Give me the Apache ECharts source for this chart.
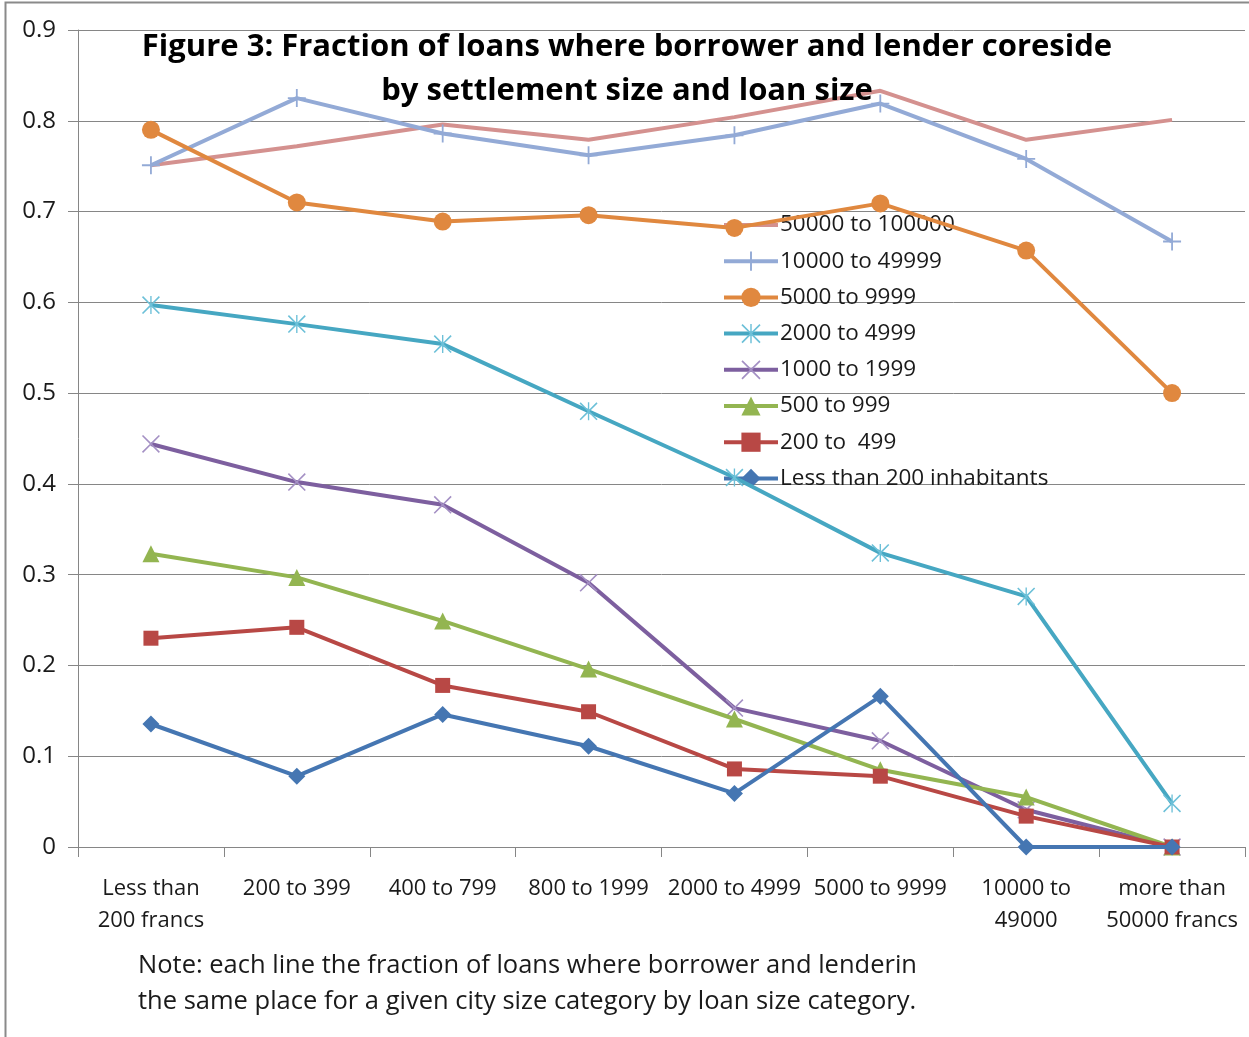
<!DOCTYPE html>
<html>
<head>
<meta charset="utf-8">
<script src="https://cdn.jsdelivr.net/npm/echarts@6/dist/echarts.min.js"></script>
<style>
  html, body { margin: 0; padding: 0; background: #fff; }
  #chart { width: 1249px; height: 1037px; }
</style>
</head>
<body>
<div id="chart"></div>
<script>
// ---- data ----
const categories = ['Less than\n200 francs', '200 to 399', '400 to 799', '800 to 1999', '2000 to 4999', '5000 to 9999', '10000 to\n49000', 'more than\n50000 francs'];
const yTicks = [0, 0.1, 0.2, 0.3, 0.4, 0.5, 0.6, 0.7, 0.8, 0.9];
const seriesNames = ['50000 to 100000', '10000 to 49999', '5000 to 9999', '2000 to 4999', '1000 to 1999', '500 to 999', '200 to  499', 'Less than 200 inhabitants'];
const s50000to100000 = [0.751, 0.772, 0.796, 0.779, 0.804, 0.833, 0.779, 0.801];
const s10000to49999 = [0.751, 0.825, 0.786, 0.762, 0.784, 0.819, 0.758, 0.667];
const s5000to9999 = [0.790, 0.710, 0.689, 0.696, 0.682, 0.709, 0.657, 0.500];
const s2000to4999 = [0.597, 0.576, 0.554, 0.480, 0.407, 0.324, 0.276, 0.048];
const s1000to1999 = [0.444, 0.402, 0.377, 0.291, 0.153, 0.117, 0.041, 0];
const s500to999 = [0.323, 0.297, 0.249, 0.196, 0.141, 0.085, 0.055, 0];
const s200to499 = [0.230, 0.242, 0.178, 0.149, 0.086, 0.078, 0.034, 0];
const sLess200 = [0.1355, 0.078, 0.146, 0.111, 0.059, 0.166, 0, 0];
const titleLines = ['Figure 3: Fraction of loans where borrower and lender coreside', 'by settlement size and loan size'];
const noteLines = ['Note: each line the fraction of loans where borrower and lenderin', 'the same place for a given city size category by loan size category.'];

// ---- styles ----
const FONT = '"Open Sans", Lato, sans-serif';
const PLUS = 'path://M7.2,0 L8.8,0 L8.8,7.2 L16,7.2 L16,8.8 L8.8,8.8 L8.8,16 L7.2,16 L7.2,8.8 L0,8.8 L0,7.2 L7.2,7.2 Z';
const XMARK = 'path://M0,1 L1,0 L8,7 L15,0 L16,1 L9,8 L16,15 L15,16 L8,9 L1,16 L0,15 L7,8 Z';
const STAR = 'path://M0,1 L1,0 L8,7 L15,0 L16,1 L9,8 L16,15 L15,16 L8,9 L1,16 L0,15 L7,8 Z M7.4,0 L8.6,0 L8.6,16 L7.4,16 Z';
const LINE_ONLY_ICON = 'path://M0,0 L0.01,0 L0,0.01 Z M0,10 L54,10 L54,14 L0,14 Z M53.99,24 L54,24 L54,23.99 Z';

const seriesData = [s50000to100000, s10000to49999, s5000to9999, s2000to4999, s1000to1999, s500to999, s200to499, sLess200];
const styles = [
  { color: '#D4918F', marker: '#D4918F', symbol: 'none', size: 0 },
  { color: '#93AAD6', marker: '#93AAD6', symbol: PLUS, size: 18 },
  { color: '#E0883F', marker: '#E0883F', symbol: 'circle', size: 18 },
  { color: '#46A7C2', marker: '#6CC0D8', symbol: STAR, size: 18 },
  { color: '#7D5F9F', marker: '#A490C4', symbol: XMARK, size: 18 },
  { color: '#93B551', marker: '#93B551', symbol: 'triangle', size: 17 },
  { color: '#B84845', marker: '#B84845', symbol: 'rect', size: 15 },
  { color: '#4576B2', marker: '#4576B2', symbol: 'diamond', size: 17 }
];

const series = seriesNames.map((name, i) => ({
  name: name,
  type: 'line',
  data: seriesData[i],
  symbol: styles[i].symbol,
  symbolSize: styles[i].size,
  showSymbol: styles[i].symbol !== 'none',
  lineStyle: { color: styles[i].color, width: 4 },
  itemStyle: { color: styles[i].marker, borderWidth: 0 },
  emphasis: { disabled: true },
  animation: false,
  z: 2 + i
}));

const legendData = seriesNames.map((name, i) => styles[i].symbol === 'none'
  ? { name: name, icon: LINE_ONLY_ICON, itemStyle: { color: styles[i].color } }
  : { name: name });

const chart = echarts.init(document.getElementById('chart'), null, { renderer: 'canvas' });
chart.setOption({
  animation: false,
  backgroundColor: '#ffffff',
  grid: { left: 78, right: 4, top: 30, bottom: 190, containLabel: false },
  legend: {
    data: legendData,
    orient: 'vertical',
    left: 722,
    top: 213,
    itemWidth: 54,
    itemHeight: 24,
    itemGap: 12.2,
    padding: 0,
    lineStyle: { width: 4 },
    textStyle: { fontFamily: FONT, fontSize: 22.5, color: '#1a1a1a', lineHeight: 24, padding: [0, 0, 0, -3] },
    selectedMode: false
  },
  xAxis: {
    type: 'category',
    data: categories,
    boundaryGap: true,
    axisLine: { show: true, lineStyle: { color: '#868686', width: 1 } },
    axisTick: { show: true, length: 10, inside: false, alignWithLabel: false, lineStyle: { color: '#868686' } },
    axisLabel: { interval: 0, hideOverlap: false, margin: 26, fontFamily: FONT, fontSize: 22, lineHeight: 32, color: '#1a1a1a' },
    splitLine: { show: false }
  },
  yAxis: {
    type: 'value',
    min: yTicks[0],
    max: yTicks[yTicks.length - 1],
    interval: 0.1,
    axisLine: { show: true, lineStyle: { color: '#868686', width: 1 } },
    axisTick: { show: true, length: 10, lineStyle: { color: '#868686' } },
    axisLabel: { margin: 22, fontFamily: FONT, fontSize: 24, color: '#1a1a1a',
      formatter: v => (Math.round(v * 10) / 10).toString() },
    splitLine: { show: true, lineStyle: { color: '#868686', width: 1 } }
  },
  graphic: [
    { type: 'rect', left: 3, top: 0, shape: { width: 1260, height: 1050 }, style: { fill: 'none', stroke: '#8a8a8a', lineWidth: 2 }, silent: true, z: 0 },
    { type: 'text', x: 627, y: 47, style: { text: titleLines[0], fontFamily: FONT, fontWeight: 'bold', fontSize: 31, fill: '#000', align: 'center', verticalAlign: 'middle' }, z: 100 },
    { type: 'text', x: 627, y: 91, style: { text: titleLines[1], fontFamily: FONT, fontWeight: 'bold', fontSize: 31, fill: '#000', align: 'center', verticalAlign: 'middle' }, z: 100 },
    { type: 'text', x: 138, y: 966, style: { text: noteLines[0], fontFamily: FONT, fontSize: 25.5, fill: '#1a1a1a', align: 'left', verticalAlign: 'middle' }, z: 100 },
    { type: 'text', x: 138, y: 1002, style: { text: noteLines[1], fontFamily: FONT, fontSize: 25.5, fill: '#1a1a1a', align: 'left', verticalAlign: 'middle' }, z: 100 }
  ],
  series: series
});
</script>
</body>
</html>
